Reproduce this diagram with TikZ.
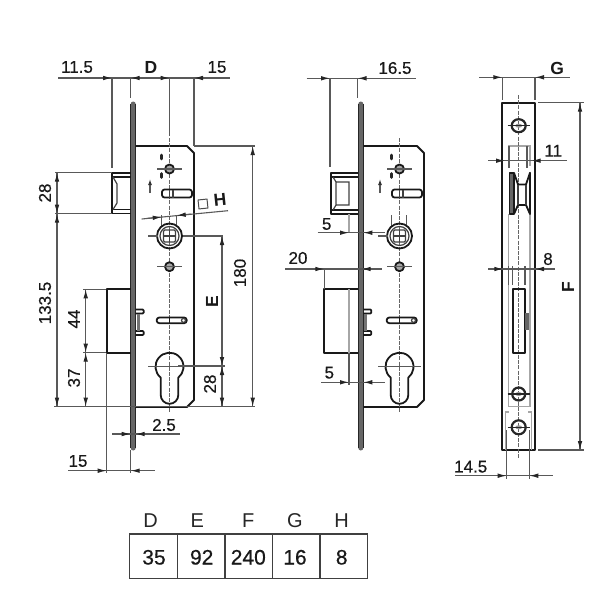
\documentclass[tikz,border=0pt]{standalone}
\usepackage{fontspec}
\setmainfont{Liberation Sans}
\newfontface\heavyface[FakeBold=0.5]{Liberation Sans}
\usetikzlibrary{arrows.meta}
\begin{document}
\begin{tikzpicture}[x=1pt,y=-1pt,
	body/.style={draw=black!90,line width=1.8pt,line join=round},
	thin body/.style={draw=black!75,line width=1.2pt},
	pale/.style={draw=black!35,line width=1.3pt},
	dimline/.style={draw=black!65,line width=1.1pt},
	dimarrow/.style={draw=black!65,line width=1.1pt,-{Latex[length=9pt,width=4.6pt,black!85]}},
	centerline/.style={draw=black!60,line width=1.1pt,dash pattern=on 4pt off 1.2pt},
	dimtext/.style={inner sep=0pt,font=\fontsize{17}{17}\heavyface,text=black!90},
	lettertext/.style={inner sep=0pt,font=\fontsize{17.5}{17.5}\selectfont\bfseries,text=black!90},
	headtext/.style={inner sep=0pt,font=\fontsize{20}{20}\selectfont,text=black!85},
	celltext/.style={inner sep=0pt,font=\fontsize{21}{21}\heavyface,text=black!90}]
\useasboundingbox (0,0) rectangle (600,600);
\foreach \dx/\pl in {0/130.7,230/128.3} {
	\begin{scope}[xshift=\dx pt]
		\fill[black!60] (\pl,104) -- (\pl,448) arc[start angle=180,end angle=360,radius=2.5pt] -- ({\pl+5},104) arc[start angle=0,end angle=180,radius=2.5pt] -- cycle;
		\draw[black!85,line width=1pt] (\pl,104) -- (\pl,448) ({\pl+5},104) -- ({\pl+5},448);
		\draw[body] ({\pl+5},146) -- (187,146) -- (194,153) -- (194,400) -- (187,407) -- ({\pl+5},407);
		\draw[centerline] (169.5,138) -- (169.5,412);
		\foreach \y in {169,266.7} {
			\draw[body,fill=black!35] (169.5,\y) circle[radius=4.5pt];
			\draw[dimline] (157,\y) -- (182,\y);
		}
		\foreach \y in {157,175.5} {
			\draw[black!85,line width=3pt,line cap=round] (161,{\y-1.8}) -- (161,{\y+1.8});
		}
		\draw[dimline,-{Latex[length=6pt,width=4pt,black!80]}] (150,193) -- (150,179);
		\draw[body,rounded corners=2.5pt] (162,189.5) rectangle (192,197.5);
		\draw[thin body] (173,189.5) -- (173,197.5) (169.5,189.5) -- (169.5,197.5);
		\draw[dimline] (161.7,215) -- (161.7,227) (176.7,215) -- (176.7,227);
		\draw[body] (169.5,236) circle[radius=12.5pt];
		\draw[thin body] (169.5,236) circle[radius=9.5pt];
		\draw[thin body,rounded corners=1.2pt] (163.5,230) rectangle (175.5,242);
		\draw[thin body] (169.5,230) -- (169.5,242) (163.5,236) -- (175.5,236);
		\draw[dimline] (148,236) -- (158,236);
		\draw[body,rounded corners=2.6pt] (156.7,317.5) rectangle (186.7,323.2);
		\draw[body] (169.5,318) -- (169.5,323);
		\draw[thin body] (183.5,320.4) circle[radius=2pt];
		\draw[body] (160.7,377.6) arc[start angle=231,end angle=-51,radius=14pt] -- (178.3,395) arc[start angle=0,end angle=-180,radius=8.8pt] -- cycle;
		\draw[dimline] (148,366.5) -- (191,366.5);
		\draw[body,rounded corners=1pt] ({\pl+5},309.5) -- ({\pl+13},309.5) -- ({\pl+13},313.5) -- ({\pl+5},313.5);
		\draw[body,rounded corners=1pt] ({\pl+5},331) -- ({\pl+13},331) -- ({\pl+13},335) -- ({\pl+5},335);
		\fill[black!55] ({\pl+6},313.5) rectangle ({\pl+9},331);
	\end{scope}
}
\draw[body] (130.7,173) -- (112,173) -- (112,213.5) -- (130.7,213.5);
\draw[body] (113,177) -- (130.7,177) (113,209.5) -- (130.7,209.5);
\draw[thin body] (113,177) -- (117,184) -- (117,203) -- (113,209.5);
\draw[body] (130.7,289.3) -- (106.7,289.3) -- (106.7,352.7) -- (130.7,352.7);
\draw[body] (358.3,172.7) -- (330.7,172.7) -- (330.7,214) -- (358.3,214);
\draw[body] (331,177) -- (358.3,177) (331,210) -- (358.3,210);
\draw[thin body] (333,177) -- (336,182) -- (336,205) -- (333,210) (336,182) -- (349,182) -- (349,205) -- (336,205);
\draw[body] (358.3,289.3) -- (324.3,289.3) -- (324.3,352.7) -- (358.3,352.7);
\draw[pale] (349,214) -- (349,232) (349,289.3) -- (349,352.7);
\draw[dimline] (349,352.7) -- (349,385) (324.3,269) -- (324.3,289.3);
\draw[body] (502.3,450) -- (502.3,102.7) -- (535,102.7) -- (535,450) -- cycle;
\draw[pale] (508.3,166) -- (508.3,146) -- (530,146) -- (530,166) (508.3,214) -- (508.3,406.7) -- (530,406.7) -- (530,214);
\draw[pale] (505.7,450) -- (505.7,412) -- (509,412) (531.7,450) -- (531.7,412) -- (528,412);
\draw[centerline] (518.7,95) -- (518.7,458);
\foreach \y/\rx/\ry in {125.7/7/6.5,394/6.5/6.5,427.3/7/7} {
	\draw[black!85,line width=2.2pt] (518.7,\y) ellipse[x radius=\rx pt,y radius=\ry pt];
	\fill[black!40] (518.7,\y) ellipse[x radius=3.5pt,y radius=2pt];
	\draw[black!85,line width=1.4pt] (507.5,\y) -- (530,\y);
}
\fill[black!60,rounded corners=1pt] (509.5,172.7) rectangle (514,214);
\draw[body] (509.5,172.7) rectangle (514,214);
\draw[body] (514,172.7) -- (518,184.5) -- (526,184.5) -- (530,172.7) -- (530,214) -- (526,205) -- (518,205) -- (514,214);
\draw[thin body] (518,184.5) -- (518,205) (526,184.5) -- (526,205);
\draw[dimline] (509,146) -- (509,168) (527,146) -- (527,168) (512.7,266) -- (512.7,285) (525,266) -- (525,285) (508.3,266) -- (508.3,285);
\draw[body] (512.7,289.3) rectangle (525,352.7);
\fill[black!60] (525,313) rectangle (529,330);
\draw[dimline] (506.7,430) -- (506.7,479) (529.3,430) -- (529.3,479);
\draw[dimline] (58,78) -- (230,78) (112,78) -- (112,168) (130.7,78) -- (130.7,98) (169.5,78) -- (169.5,136) (194,78) -- (194,146);
\draw[dimline] (306.7,78.3) -- (415.7,78.3) (330,78) -- (330,167) (357.5,78) -- (357.5,98);
\draw[dimline] (479.3,77.3) -- (570,77.3) (502.3,77) -- (502.3,100) (535,77) -- (535,100);
\draw[dimline] (55,172.7) -- (112,172.7) (55,213.7) -- (112,213.7) (57,172.7) -- (57,407) (54,406.7) -- (255,406.7);
\draw[dimline] (83,289.3) -- (106,289.3) (83,352.7) -- (106,352.7) (85.7,289.3) -- (85.7,407);
\draw[dimline] (194,146) -- (255,146) (252.7,146) -- (252.7,407) (183,236) -- (223,236) (222,236) -- (222,407) (178,366) -- (225,366);
\draw[dimline] (106.7,352.7) -- (106.7,473) (130.7,450) -- (130.7,473) (68,470.7) -- (155,470.7) (112,434) -- (180,434);
\draw[dimline] (141.7,219) -- (228,210.7);
\draw[dimline] (317.7,232.7) -- (385,232.7) (285,269) -- (381.7,269) (321,382.3) -- (385,382.3);
\draw[dimline] (488.3,160.7) -- (566.7,160.7) (488,269) -- (555,269) (455,475.7) -- (553,475.7);
\draw[dimline] (538,102.7) -- (584,102.7) (538,450) -- (584,450) (580,102.7) -- (580,450);
\foreach \xa/\xb/\y in {96/112/78,147/130.7/78,154/169.5/78,210/194/78,
	314/330/78.3,373/357.5/78.3,486/502.3/77.3,551/535/77.3,
	92/106.7/470.7,147/130.7/470.7,116/130.7/434,151/135.7/434,
	333/349/232.7,379/363.3/232.7,308/324.3/269,378/361.7/269,333/349/382.3,379/363.3/382.3,
	491/505/160.7,548/531.7/160.7,488/503.3/269,551/535/269,491/506.7/475.7,545/529.3/475.7} {
	\draw[dimarrow] (\xa,\y) -- (\xb,\y);
}
\foreach \x/\ya/\yb in {57/188/172.7,57/198/213.7,57/229/213.7,57/391/406.7,
	85.7/305/289.3,85.7/337/352.7,85.7/368/352.7,85.7/391/406.7,
	222/252/236,222/350/366,222/382/366,222/391/406.7,252.7/162/146,252.7/391/406.7,
	580/119/102.7,580/434/450} {
	\draw[dimarrow] (\x,\ya) -- (\x,\yb);
}
\draw[dimarrow] (147,218.4) -- (161.7,217);
\draw[dimarrow] (191,214.1) -- (176.7,215.5);
\node[dimtext] (lblA) at (77,67) {11.5};
\node[lettertext] (lblD) at (151,67) {D};
\node[dimtext] (lblB) at (217,67) {15};
\node[dimtext,rotate=90] (lblC) at (45,193) {28};
\node[dimtext,rotate=90] (lblE) at (45,303) {133.5};
\node[dimtext,rotate=90] (lblF) at (74,319) {44};
\node[dimtext,rotate=90] (lblG) at (74,378) {37};
\node[dimtext,rotate=90] (lblI) at (240,273) {180};
\node[lettertext,rotate=90] (lblJ) at (212,302) {E};
\node[dimtext,rotate=90] (lblK) at (210,384) {28};
\node[dimtext] (lblL) at (164,425) {2.5};
\node[dimtext] (lblM) at (78,461) {15};
\node[draw=black!70,line width=1pt,minimum size=9pt,inner sep=0pt,rotate=6] (lblSq) at (203,204) {};
\node[lettertext,rotate=6] (lblH) at (220,200) {H};
\node[dimtext] (lblN) at (395,68) {16.5};
\node[dimtext] (lblO) at (326.7,224) {5};
\node[dimtext] (lblP) at (298,258) {20};
\node[dimtext] (lblQ) at (329.3,372.7) {5};
\node[lettertext] (lblR) at (557.3,68) {G};
\node[dimtext] (lblS) at (553.3,150.7) {11};
\node[dimtext] (lblT) at (548,259) {8};
\node[lettertext,rotate=90] (lblU) at (568,287) {F};
\node[dimtext] (lblV) at (470.7,466.7) {14.5};
\draw[thin body,line width=1.6pt] (129.3,534) rectangle (367.3,578.3);
\foreach \x in {177.3,224.7,272.3,320} {
	\draw[thin body,line width=1.6pt] (\x,534) -- (\x,578.3);
}
\foreach \nm/\vl/\hx/\vx in {D/35/150.7/154,E/92/197.3/201.7,F/240/248.3/248.3,G/16/295/295,H/8/341.7/341.7} {
	\node[headtext] (head\nm) at (\hx,520.7) {\nm};
	\node[celltext] (cell\nm) at (\vx,557.3) {\vl};
}
\end{tikzpicture}
\end{document}
